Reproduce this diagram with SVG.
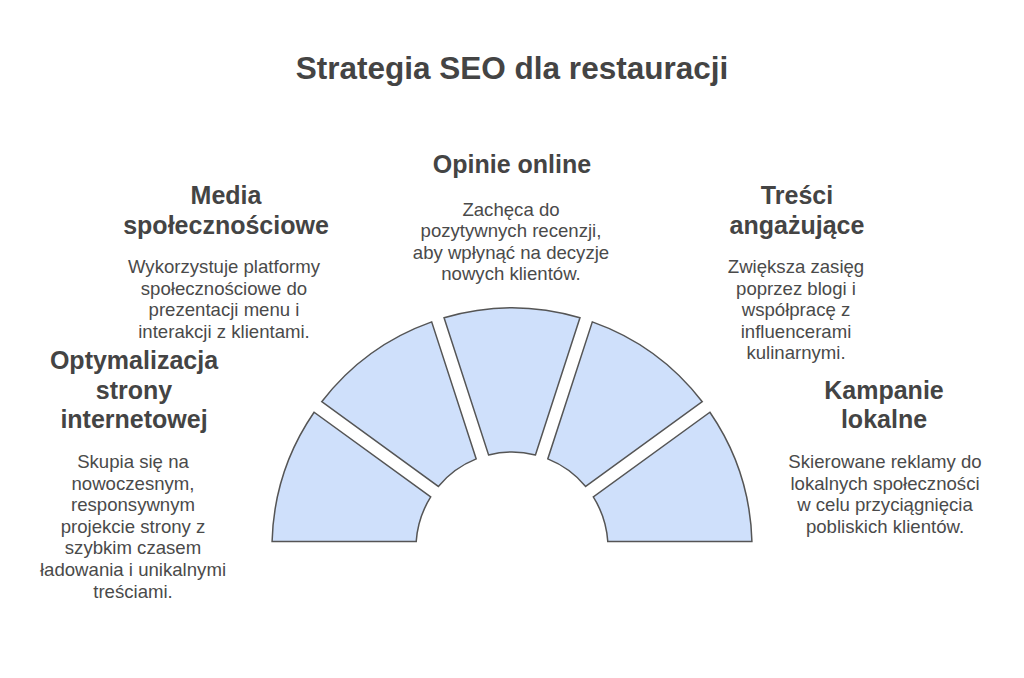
<svg xmlns="http://www.w3.org/2000/svg" width="1024" height="678" viewBox="0 0 1024 678">
<style>
.seg{fill:#cfe0fb;stroke:#555555;stroke-width:1.5;stroke-linejoin:miter}
.title{font-family:"Liberation Sans",Arial,sans-serif;font-weight:bold;font-size:31.5px;fill:#444444;text-anchor:middle}
.head{font-family:"Liberation Sans",Arial,sans-serif;font-weight:bold;font-size:25px;fill:#444444;text-anchor:middle}
.body{font-family:"Liberation Sans",Arial,sans-serif;font-size:18.6px;fill:#4a4a4a;text-anchor:middle}
</style>
<rect width="1024" height="678" fill="#ffffff"/>
<text class="title" x="512" y="79">Strategia SEO dla restauracji</text>
<g id="segments">
<path id="seg-kampanie" class="seg" d="M607.78 541.5 L751.91 541.5 A240 240 0 0 0 709.91 412.24 L593.31 496.96 A96 96 0 0 1 607.78 541.5 Z"/>
<path id="seg-tresci" class="seg" d="M585.67 486.44 L702.27 401.72 A240 240 0 0 0 592.32 321.84 L547.78 458.92 A96 96 0 0 1 585.67 486.44 Z"/>
<path id="seg-opinie" class="seg" d="M535.42 454.9 L579.96 317.82 A240 240 0 0 0 444.05 317.82 L488.58 454.9 A96 96 0 0 1 535.42 454.9 Z"/>
<path id="seg-media" class="seg" d="M476.22 458.92 L431.68 321.84 A240 240 0 0 0 321.73 401.72 L438.33 486.44 A96 96 0 0 1 476.22 458.92 Z"/>
<path id="seg-optymalizacja" class="seg" d="M430.69 496.96 L314.09 412.24 A240 240 0 0 0 272.09 541.5 L416.22 541.5 A96 96 0 0 1 430.69 496.96 Z"/>
</g>
<g id="node-opinie">
<text class="head" x="512" y="173">Opinie online</text>
<text class="body" x="511" y="215.5">Zachęca do</text>
<text class="body" x="511" y="237.1">pozytywnych recenzji,</text>
<text class="body" x="511" y="258.7">aby wpłynąć na decyzje</text>
<text class="body" x="511" y="280.3">nowych klientów.</text>
</g>
<g id="node-media">
<text class="head" x="226" y="204">Media</text>
<text class="head" x="226" y="234">społecznościowe</text>
<text class="body" x="224" y="273">Wykorzystuje platformy</text>
<text class="body" x="224" y="294.6">społecznościowe do</text>
<text class="body" x="224" y="316.2">prezentacji menu i</text>
<text class="body" x="224" y="337.8">interakcji z klientami.</text>
</g>
<g id="node-tresci">
<text class="head" x="797" y="204">Treści</text>
<text class="head" x="797" y="234">angażujące</text>
<text class="body" x="796" y="273">Zwiększa zasięg</text>
<text class="body" x="796" y="294.6">poprzez blogi i</text>
<text class="body" x="796" y="316.2">współpracę z</text>
<text class="body" x="796" y="337.8">influencerami</text>
<text class="body" x="796" y="359.4">kulinarnymi.</text>
</g>
<g id="node-optymalizacja">
<text class="head" x="134" y="369">Optymalizacja</text>
<text class="head" x="134" y="399">strony</text>
<text class="head" x="134" y="428">internetowej</text>
<text class="body" x="133" y="468">Skupia się na</text>
<text class="body" x="133" y="489.6">nowoczesnym,</text>
<text class="body" x="133" y="511.2">responsywnym</text>
<text class="body" x="133" y="532.8">projekcie strony z</text>
<text class="body" x="133" y="554.4">szybkim czasem</text>
<text class="body" x="133" y="576">ładowania i unikalnymi</text>
<text class="body" x="133" y="597.6">treściami.</text>
</g>
<g id="node-kampanie">
<text class="head" x="884" y="399">Kampanie</text>
<text class="head" x="884" y="428">lokalne</text>
<text class="body" x="885" y="468">Skierowane reklamy do</text>
<text class="body" x="885" y="489.6">lokalnych społeczności</text>
<text class="body" x="885" y="511.2">w celu przyciągnięcia</text>
<text class="body" x="885" y="532.8">pobliskich klientów.</text>
</g>
<g id="connectors"></g>
</svg>
